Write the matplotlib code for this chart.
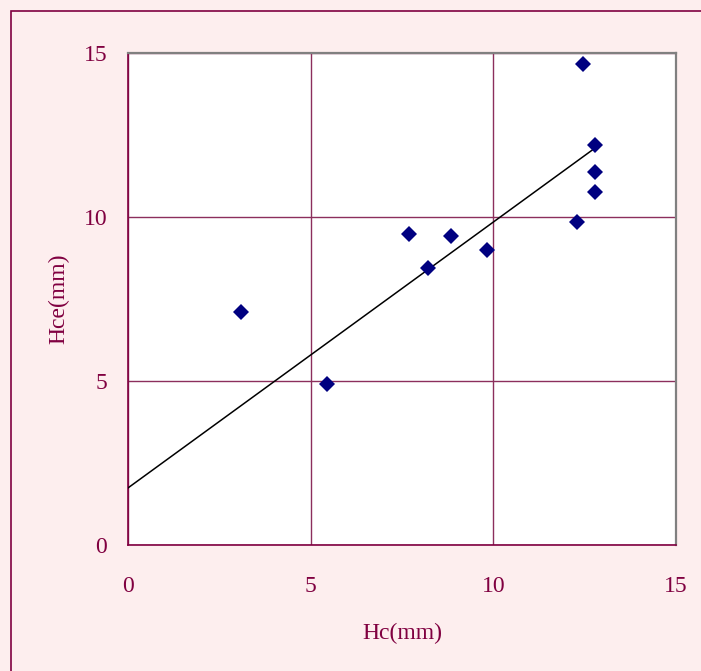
import matplotlib
matplotlib.use('Agg')
import matplotlib.pyplot as plt
from matplotlib.patches import Rectangle

# measured heights
hc = [3.09, 5.45, 7.69, 8.21, 8.84, 9.83, 12.29, 12.46, 12.78, 12.78, 12.78]
hce = [7.10, 4.91, 9.48, 8.45, 9.42, 8.99, 9.85, 14.66, 12.20, 11.37, 10.76]

# trend line end points
trend_x = [0, 12.78]
trend_y = [1.74, 12.10]

ticks = [0, 5, 10, 15]

maroon = '#800040'
grid_col = '#8c2f5c'
bg = '#fdeeee'

plt.rcParams['font.family'] = ['Liberation Serif', 'DejaVu Serif']

fig = plt.figure(figsize=(7.01, 6.71), dpi=100)
fig.patch.set_facecolor(bg)
fig.patches.append(Rectangle((11 / 701, -0.1), 1.2, 1 - 10.5 / 671 + 0.1,
                             transform=fig.transFigure, fill=False,
                             edgecolor=maroon, linewidth=1.2))

ax = fig.add_axes([128 / 701, 1 - 545 / 671, 548 / 701, 492 / 671])
ax.set_facecolor('white')
ax.set_xlim(0, 15)
ax.set_ylim(0, 15)
ax.set_xticks(ticks)
ax.set_yticks(ticks)
ax.tick_params(length=0, labelsize=17, labelcolor=maroon)
ax.tick_params(axis='x', pad=22)
ax.tick_params(axis='y', pad=15)
ax.grid(True, color=grid_col, linewidth=1.0)
ax.set_axisbelow(True)

for side in ['left', 'bottom']:
    ax.spines[side].set_color(maroon)
    ax.spines[side].set_linewidth(1.2)
for side in ['top', 'right']:
    ax.spines[side].set_color('#808080')
    ax.spines[side].set_linewidth(1.6)

ax.plot(trend_x, trend_y, color='black', linewidth=1.1, zorder=3)
ax.plot(hc, hce, linestyle='none', marker='D', markersize=8.3,
        color='#000080', markeredgewidth=0, zorder=4)

ax.set_xlabel('Hc(mm)', fontsize=17, color=maroon, labelpad=19)
ax.set_ylabel('Hce(mm)', fontsize=17, color=maroon, labelpad=10)

fig.savefig('out.png', dpi=100, facecolor=bg)
